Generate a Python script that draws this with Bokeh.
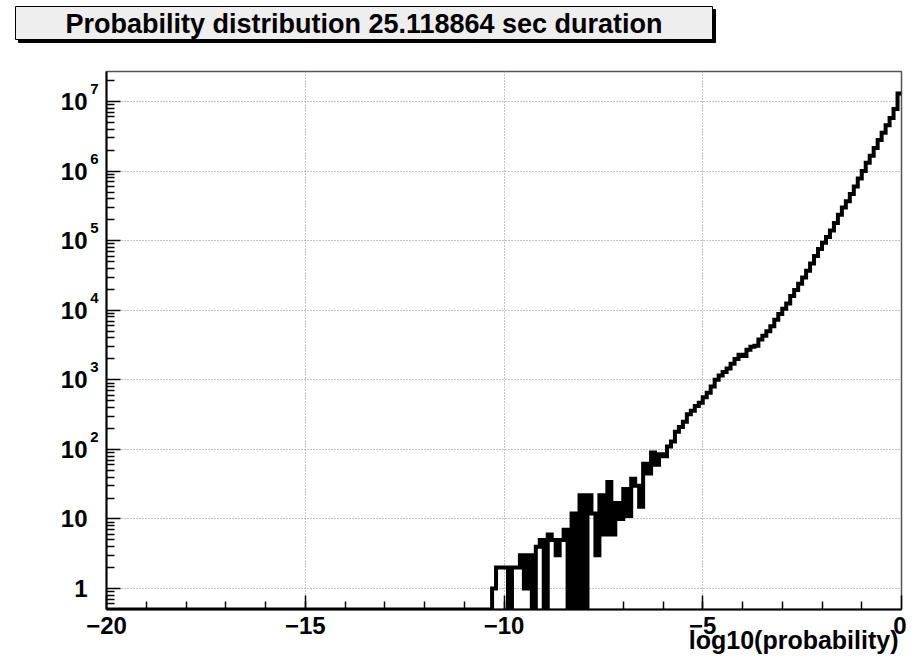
import numpy as np
from bokeh.plotting import figure
from bokeh.models import Range1d, FixedTicker, LogAxis, CustomJSTickFormatter, Title
from bokeh.layouts import column
from bokeh.embed import file_html
from bokeh.resources import INLINE
from bokeh.core.properties import value

TITLE = "Probability distribution 25.118864 sec duration"
X_LABEL = "log10(probability)"
X_MIN, X_MAX = -20, 0
Y_MIN, Y_MAX = 0.5, 2.7e7

# bins of width 0.1 from -20 to 0; bins -20 .. -10.4 are empty
empty_bins = [0] * 97
# bins -10.3 .. -6.0
counts_low = [1, 2, 2, 2, 0, 2, 2, 3, 1, 3,
              0, 4, 5, 0, 6, 5, 3, 5, 7, 0,
              12, 0, 22, 0, 22, 12, 3, 22, 6, 34,
              6, 17, 10, 27, 11, 38, 30, 15, 62, 45,
              90, 60, 85, 80]
# bins -5.9 .. -0.1
counts_high = [110, 130, 180, 210, 250, 320, 360, 420, 470, 560,
               650, 800, 1000, 1150, 1300, 1450, 1700, 2000, 2300, 2200,
               2700, 3000, 3100, 3800, 4300, 5000, 5900, 7300, 8800, 10500,
               12500, 16000, 19500, 24000, 29500, 37000, 47000, 60000, 76000, 93000,
               113000, 140000, 180000, 235000, 300000, 370000, 470000, 600000, 780000, 1000000,
               1320000, 1660000, 2150000, 2800000, 3550000, 4550000, 5800000, 7800000, 13000000]
counts = empty_bins + counts_low + counts_high

x_major = [-20, -15, -10, -5, 0]
x_minor = list(range(-19, 0))
y_major = [1, 10, 100, 1000, 10000, 100000, 1000000, 10000000]
y_base_labels = ["1", "10", "10", "10", "10", "10", "10", "10"]
y_exponents = [2, 3, 4, 5, 6, 7]

FONT = "Liberation Sans"
W = 906

# ---------- title box ----------
t = figure(width=W, height=46, x_range=Range1d(0, W), y_range=Range1d(46, 0),
           toolbar_location=None, output_backend="svg", min_border=0,
           x_axis_location=None, y_axis_location=None, frame_align=False)
t.grid.visible = False
t.outline_line_color = None
t.quad(left=[18], right=[715], top=[9], bottom=[42], color="black")
t.quad(left=[15], right=[712], top=[6], bottom=[39], fill_color="#eeeeee", line_color="black", line_width=1)
t.text(x=[363.5], y=[23], text=[TITLE], text_align="center", text_baseline="middle",
       text_font=value(FONT), text_font_style="bold", text_font_size="27px", text_color="black")

# ---------- main histogram ----------
p = figure(width=W, height=609, x_range=Range1d(X_MIN, X_MAX), y_range=Range1d(Y_MIN, Y_MAX),
           y_axis_type="log", toolbar_location=None, output_backend="svg", frame_align=False,
           min_border_left=106, min_border_right=5, min_border_top=25, min_border_bottom=46)

edges = np.round(np.linspace(X_MIN, X_MAX, len(counts) + 1), 6)
yvals = np.maximum(np.array(counts, dtype=float), Y_MIN)
ys = np.append(yvals, yvals[-1])
p.step(edges, ys, mode="after", line_width=4, line_color="black", line_join="miter")

xax = p.xaxis[0]
yin = p.yaxis[0]
xax.ticker = FixedTicker(ticks=x_major, minor_ticks=x_minor)
y_minor = [k * 10.0 ** d for d in range(-1, 8) for k in range(2, 10) if Y_MIN < k * 10.0 ** d < Y_MAX]
yin.ticker = FixedTicker(ticks=y_major, minor_ticks=y_minor)
yin.major_label_overrides = {v: "" for v in y_major}

# exponent axis (small raised digits) and base axis ("10")
yexp = LogAxis(ticker=FixedTicker(ticks=[10.0 ** (e + 0.18) for e in y_exponents], minor_ticks=[]),
               formatter=CustomJSTickFormatter(code="return String(Math.round(Math.log10(tick)));"))
ybase = LogAxis(ticker=FixedTicker(ticks=y_major, minor_ticks=[]))
ybase.major_label_overrides = {v: s for v, s in zip(y_major, y_base_labels)}
p.add_layout(yexp, "left")
p.add_layout(ybase, "left")

for ax in (xax, yin, yexp, ybase):
    ax.axis_line_width = 2
    ax.axis_line_color = "black"
    ax.major_tick_out = 0
    ax.minor_tick_out = 0
    ax.major_tick_line_color = "black"
    ax.minor_tick_line_color = "black"
    ax.major_tick_line_width = 1.5
    ax.minor_tick_line_width = 1.5
    ax.major_label_text_font = FONT
    ax.major_label_text_font_style = "bold"
    ax.major_label_text_font_size = "24px"
    ax.major_label_text_color = "black"

for ax in (yexp, ybase):
    ax.axis_line_color = None
    ax.major_tick_in = 0
    ax.minor_tick_in = 0
    ax.major_label_standoff = 0
yexp.major_label_text_font_size = "15px"
yexp.major_label_standoff = 8

xax.major_tick_in = 14
xax.minor_tick_in = 8
xax.major_label_standoff = 7
yin.major_tick_in = 14
yin.minor_tick_in = 8
yin.major_label_standoff = 0

# x-axis title, right aligned under the tick labels
p.add_layout(Title(text=X_LABEL, align="right", offset=3, vertical_align="bottom", standoff=-25,
                   text_font=FONT, text_font_style="bold", text_font_size="25px",
                   text_color="black"), "below")

p.xgrid.grid_line_color = "#888888"
p.xgrid.grid_line_dash = "1 2"
p.ygrid.grid_line_color = "#888888"
p.ygrid.grid_line_dash = "1 2"
p.outline_line_color = "#555555"
p.outline_line_width = 1.5

layout = column(t, p, spacing=0)
open("out.html", "w").write(file_html(layout, INLINE))
